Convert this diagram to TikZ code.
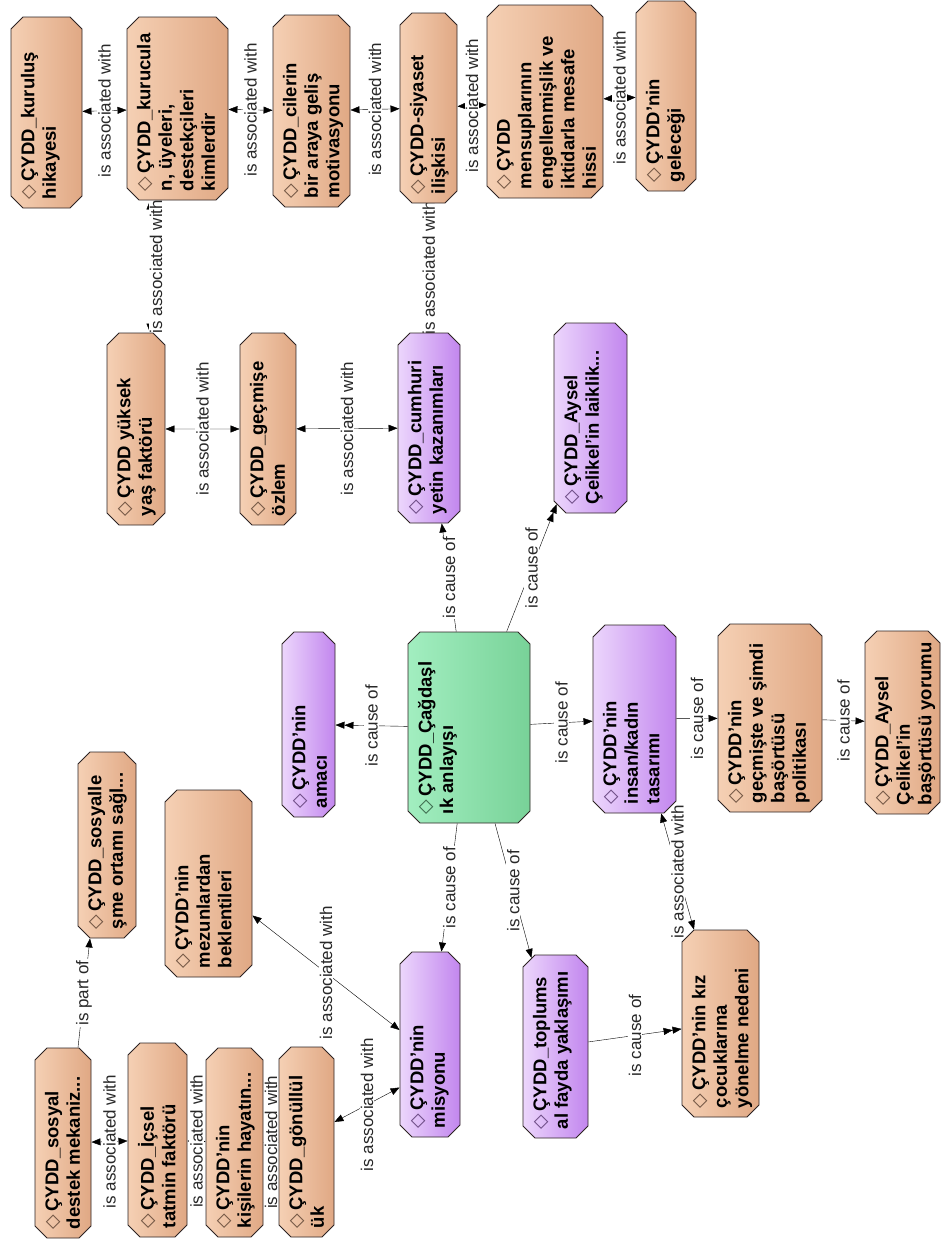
\documentclass[tikz,border=0pt]{standalone}
\usepackage{fontspec}
\setmainfont{Liberation Sans}
\newfontfamily\diafont{DejaVu Sans}
\usetikzlibrary{shapes.misc,arrows.meta,backgrounds}

\definecolor{orangelight}{RGB}{245,208,180}
\definecolor{orangedark}{RGB}{224,168,132}
\definecolor{purplelight}{RGB}{236,214,252}
\definecolor{purpledark}{RGB}{194,134,238}
\definecolor{greenlight}{RGB}{162,238,192}
\definecolor{greendark}{RGB}{120,210,152}
\definecolor{boxline}{RGB}{45,35,35}
\definecolor{reltext}{RGB}{40,40,40}
\colorlet{dia}{black}
\newcommand{\dia}{{\diafont\mdseries\fontsize{19}{19}\selectfont\color{dia}◇}\hspace{3pt}}

\tikzset{
  concept/.style={chamfered rectangle, chamfered rectangle xsep=6pt,
    chamfered rectangle ysep=6pt, draw=boxline, line width=0.9pt,
    rotate=90, inner sep=0pt},
  orangebox/.style={concept, left color=orangelight, right color=orangedark,
    font=\fontsize{18.5}{21.5}\selectfont\bfseries\colorlet{dia}{orangedark!50!black}},
  purplebox/.style={concept, left color=purplelight, right color=purpledark,
    font=\fontsize{18.5}{21.5}\selectfont\bfseries\colorlet{dia}{purpledark!55!black}},
  greenbox/.style={concept, left color=greenlight, right color=greendark,
    font=\fontsize{18.5}{21.5}\selectfont\bfseries\colorlet{dia}{greendark!50!black}},
  csize/.style 2 args={minimum width=#1pt, minimum height=#2pt,
    execute at begin node={\begin{minipage}[c][\dimexpr#2pt-20pt\relax][t]{\dimexpr#1pt-14pt\relax}\raggedright\leftskip=2pt\rightskip=-40pt plus 1fil},
    execute at end node={\end{minipage}}},
  rel/.style={rotate=90, fill=white, inner sep=1pt, text=reltext,
    font=\fontsize{17}{17}\selectfont}
}

\begin{document}
\begin{tikzpicture}[x=1pt, y=-1pt, >={Triangle[length=9pt,width=7pt]}, line width=0.8pt]
  \useasboundingbox (0,0) rectangle (944,1242);

  % top row
  \node[orangebox, csize={191}{71}] (kurulus) at (46.5,112.5) {\dia ÇYDD\_kuruluş\\hikayesi};
  \node[orangebox, csize={183}{101}] (kurucular) at (177.5,108.5) {\dia ÇYDD\_kurucula\\n, üyeleri,\\destekçileri\\kimlerdir};
  \node[orangebox, csize={192}{77}] (cilerin) at (311.5,111) {\dia ÇYDD\_cilerin\\bir araya geliş\\motivasyonu};
  \node[orangebox, csize={190}{57}] (siyaset) at (428.5,108) {\dia ÇYDD-siyaset\\ilişkisi};
  \node[orangebox, csize={193}{116}] (mensup) at (545,101.5) {\dia ÇYDD\\mensuplarının\\engellenmişlik ve\\iktidarla mesafe\\hissi};
  \node[orangebox, csize={190}{60}] (gelecegi) at (666,96) {\dia ÇYDD'nin\\geleceği};

  % second row
  \node[orangebox, csize={192}{58}] (yuksek) at (136,429) {\dia ÇYDD yüksek\\yaş faktörü};
  \node[orangebox, csize={192}{56}] (gecmise) at (268,429) {\dia ÇYDD\_geçmişe\\özlem};
  \node[purplebox, csize={190}{62}] (cumhuri) at (429,428) {\dia ÇYDD\_cumhuri\\yetin kazanımları};
  \node[purplebox, csize={190}{73}] (laiklik) at (590.5,418) {\dia ÇYDD\_Aysel\\Çelikel'in laiklik...};

  % middle row
  \node[purplebox, csize={185}{53}] (amaci) at (308.5,724.5) {\dia ÇYDD'nin\\amacı};
  \node[greenbox, csize={191}{122}] (cagdas) at (469,727.5) {\dia ÇYDD\_Çağdaşl\\ık anlayışı};
  \node[purplebox, csize={188}{83}] (insan) at (634.5,719) {\dia ÇYDD'nin\\insan/kadın\\tasarımı};
  \node[orangebox, csize={188}{104}] (politikasi) at (770,718) {\dia ÇYDD'nin\\geçmişte ve şimdi\\başörtüsü\\politikası};
  \node[orangebox, csize={183}{75}] (aysel) at (902.5,722.5) {\dia ÇYDD\_Aysel\\Çelikel'in\\başörtüsü yorumu};

  % lower part
  \node[orangebox, csize={186}{58}] (sosyalles) at (107,845) {\dia ÇYDD\_sosyalle\\şme ortamı sağl...};
  \node[orangebox, csize={187}{87}] (mezun) at (208.5,883.5) {\dia ÇYDD'nin\\mezunlardan\\beklentileri};
  \node[purplebox, csize={185}{60}] (misyon) at (430,1044.5) {\dia ÇYDD'nin\\misyonu};
  \node[purplebox, csize={183}{65}] (toplumsal) at (555.5,1046.5) {\dia ÇYDD\_toplums\\al fayda yaklaşımı};
  \node[orangebox, csize={187}{77}] (kiz) at (720.5,1023.5) {\dia ÇYDD'nin kız\\çocuklarına\\yönelme nedeni};

  % bottom row
  \node[orangebox, csize={190}{56}] (destek) at (63,1143) {\dia ÇYDD\_sosyal\\destek mekaniz...};
  \node[orangebox, csize={194}{59}] (icsel) at (157.5,1140) {\dia ÇYDD\_İçsel\\tatmin faktörü};
  \node[orangebox, csize={189}{57}] (kisilerin) at (234.5,1142.5) {\dia ÇYDD'nin\\kişilerin hayatın...};
  \node[orangebox, csize={190}{55}] (gonullu) at (306.5,1142) {\dia ÇYDD\_gönüllül\\ük};

  \begin{scope}[on background layer]
    \fill[white] (0,0) rectangle (944,1242);

    % top row
    \draw[<->] (kurulus) -- node[rel] {is associated with} (kurucular);
    \draw[<->] (kurucular) -- node[rel] {is associated with} (cilerin);
    \draw[<->] (cilerin) -- node[rel] {is associated with} (siyaset);
    \draw[<->] (siyaset) -- node[rel] {is associated with} (mensup);
    \draw[<->] (mensup) -- node[rel] {is associated with} (gelecegi);
    \draw[<->] ([xshift=-27.5pt]kurucular.west) -- node[xshift=6pt, rel] {is associated with} ([xshift=14pt]yuksek.east);
    \draw[<->] (siyaset) -- node[rel] {is associated with} (cumhuri);

    % second row
    \draw[<->] (yuksek) -- node[rel] {is associated with} (gecmise);
    \draw[<->] (gecmise) -- node[rel] {is associated with} (cumhuri);

    % from the centre
    \draw[->] (cagdas) -- node[rel] {is cause of} (cumhuri);
    \draw[->>] (cagdas) -- node[rel] {is cause of} (laiklik);
    \draw[->>] (cagdas) -- node[rel] {is cause of} (amaci);
    \draw[->] (cagdas) -- node[rel] {is cause of} (insan);
    \draw[->] (cagdas) -- node[rel] {is cause of} (misyon);
    \draw[->] (cagdas) -- node[rel] {is cause of} (toplumsal);
    \draw[->] (insan) -- node[rel] {is cause of} (politikasi);
    \draw[->] (politikasi) -- node[rel] {is cause of} (aysel);
    \draw[<->] (insan) -- node[rel] {is associated with} (kiz);
    \draw[->>] (toplumsal) -- node[rel] {is cause of} (kiz);

    % lower left
    \draw[<->] ([yshift=-32pt]mezun.south) -- node[rel] {is associated with} ([yshift=14.5pt]misyon.north);
    \draw[<->] ([yshift=20pt]gonullu.south) -- node[rel] {is associated with} ([yshift=-43pt]misyon.north);
    \draw[->] ([xshift=15pt]destek.east) -- node[rel] {is part of} ([xshift=-17pt]sosyalles.west);
    \draw[<->] (destek) -- node[rel] {is associated with} (icsel);
    \draw[<->] (icsel) -- node[rel] {is associated with} (kisilerin);
    \draw[<->] (kisilerin) -- node[rel] {is associated with} (gonullu);
  \end{scope}
\end{tikzpicture}
\end{document}
